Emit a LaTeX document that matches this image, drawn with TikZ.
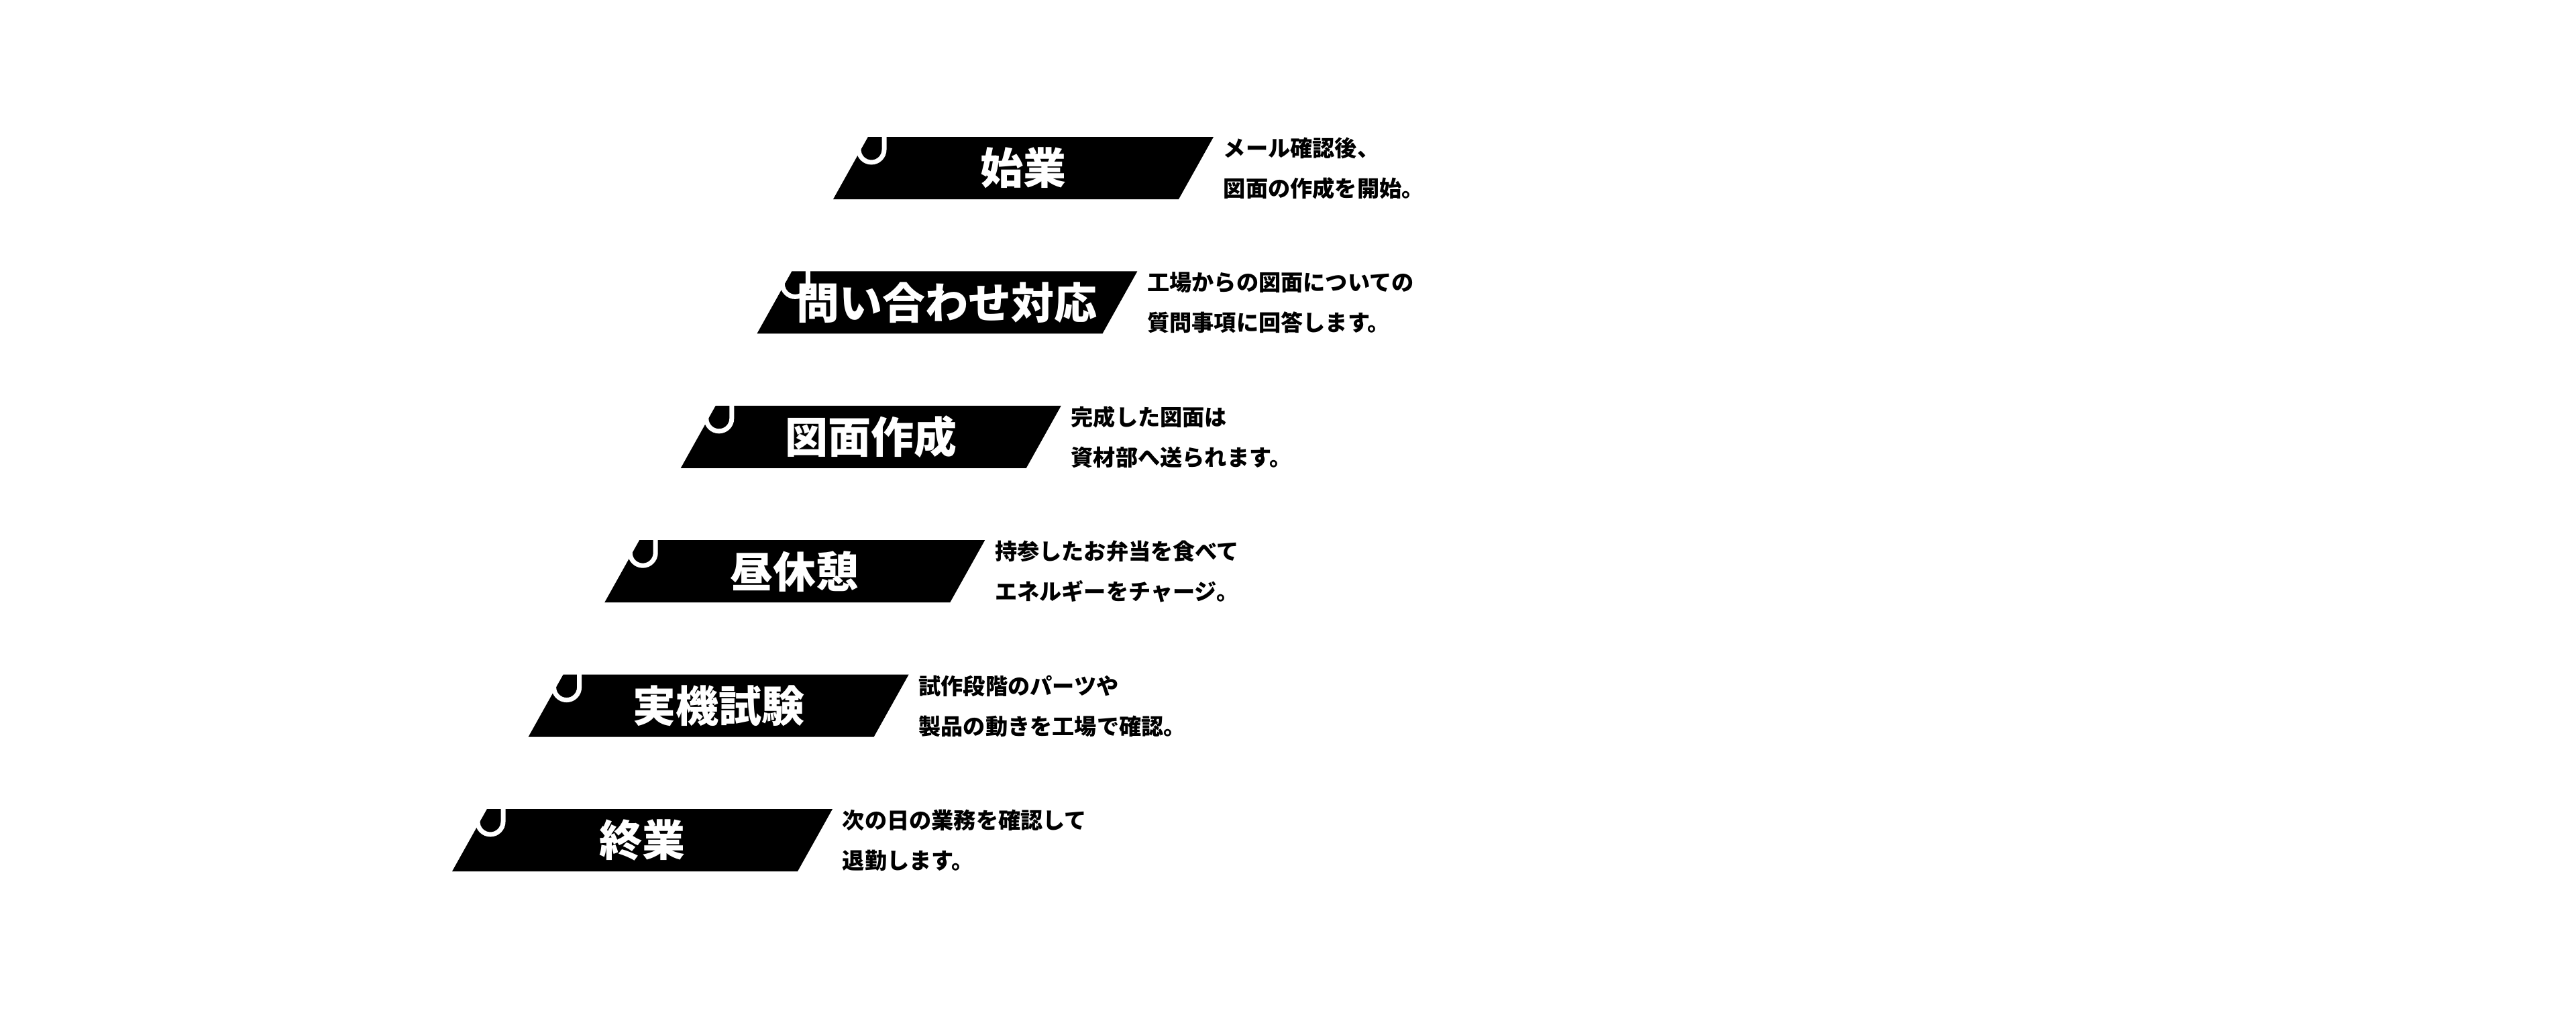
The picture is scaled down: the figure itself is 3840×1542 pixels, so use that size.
\documentclass[tikz,border=0pt]{standalone}
\usepackage{fontspec}
\setmainfont{Noto Sans CJK JP}

\begin{document}
\begin{tikzpicture}[x=0.25pt,y=0.25pt,yscale=-1,xscale=1,
   banner/.style={fill=black,draw=none},
   hook/.style={draw=white,line width=1.75pt},
   steptitle/.style={anchor=center,inner sep=0pt,text=white,font=\bfseries\fontsize{16}{16}\selectfont},
   stepdesc/.style={anchor=west,inner sep=0pt,align=left,font=\bfseries\fontsize{8.3}{15}\selectfont}]
   \useasboundingbox (0,0) rectangle (3840,1542);

   %Shape: Parallelogram [始業]
   \draw [banner] (1242,297) -- (1294,204) -- (1809,204) -- (1757,297) -- cycle ;
   \draw [hook] (1318,200) -- (1318,223) arc[start angle=0,end angle=180,radius=19] -- ++(0,-23) ;
   % Text Node
   \node [steptitle] (t1) at (1525.5,250.5) {始業};
   % Text Node
   \node [stepdesc] (d1) at (1823,251) {メール確認後、\\図面の作成を開始。};

   %Shape: Parallelogram [問い合わせ対応]
   \draw [banner] (1128.4,497.4) -- (1180.4,404.4) -- (1695.4,404.4) -- (1643.4,497.4) -- cycle ;
   \draw [hook] (1204.4,400.4) -- (1204.4,423.4) arc[start angle=0,end angle=180,radius=19] -- ++(0,-23) ;
   % Text Node
   \node [steptitle] (t2) at (1411.9,450.9) {問い合わせ対応};
   % Text Node
   \node [stepdesc] (d2) at (1709.4,451.4) {工場からの図面についての\\質問事項に回答します。};

   %Shape: Parallelogram [図面作成]
   \draw [banner] (1014.8,697.8) -- (1066.8,604.8) -- (1581.8,604.8) -- (1529.8,697.8) -- cycle ;
   \draw [hook] (1090.8,600.8) -- (1090.8,623.8) arc[start angle=0,end angle=180,radius=19] -- ++(0,-23) ;
   % Text Node
   \node [steptitle] (t3) at (1298.3,651.3) {図面作成};
   % Text Node
   \node [stepdesc] (d3) at (1595.8,651.8) {完成した図面は\\資材部へ送られます。};

   %Shape: Parallelogram [昼休憩]
   \draw [banner] (901.2,898.2) -- (953.2,805.2) -- (1468.2,805.2) -- (1416.2,898.2) -- cycle ;
   \draw [hook] (977.2,801.2) -- (977.2,824.2) arc[start angle=0,end angle=180,radius=19] -- ++(0,-23) ;
   % Text Node
   \node [steptitle] (t4) at (1184.7,851.7) {昼休憩};
   % Text Node
   \node [stepdesc] (d4) at (1482.2,852.2) {持参したお弁当を食べて\\エネルギーをチャージ。};

   %Shape: Parallelogram [実機試験]
   \draw [banner] (787.6,1098.6) -- (839.6,1005.6) -- (1354.6,1005.6) -- (1302.6,1098.6) -- cycle ;
   \draw [hook] (863.6,1001.6) -- (863.6,1024.6) arc[start angle=0,end angle=180,radius=19] -- ++(0,-23) ;
   % Text Node
   \node [steptitle] (t5) at (1071.1,1052.1) {実機試験};
   % Text Node
   \node [stepdesc] (d5) at (1368.6,1052.6) {試作段階のパーツや\\製品の動きを工場で確認。};

   %Shape: Parallelogram [終業]
   \draw [banner] (674,1299) -- (726,1206) -- (1241,1206) -- (1189,1299) -- cycle ;
   \draw [hook] (750,1202) -- (750,1225) arc[start angle=0,end angle=180,radius=19] -- ++(0,-23) ;
   % Text Node
   \node [steptitle] (t6) at (957.5,1252.5) {終業};
   % Text Node
   \node [stepdesc] (d6) at (1255,1253) {次の日の業務を確認して\\退勤します。};

\end{tikzpicture}
\end{document}
